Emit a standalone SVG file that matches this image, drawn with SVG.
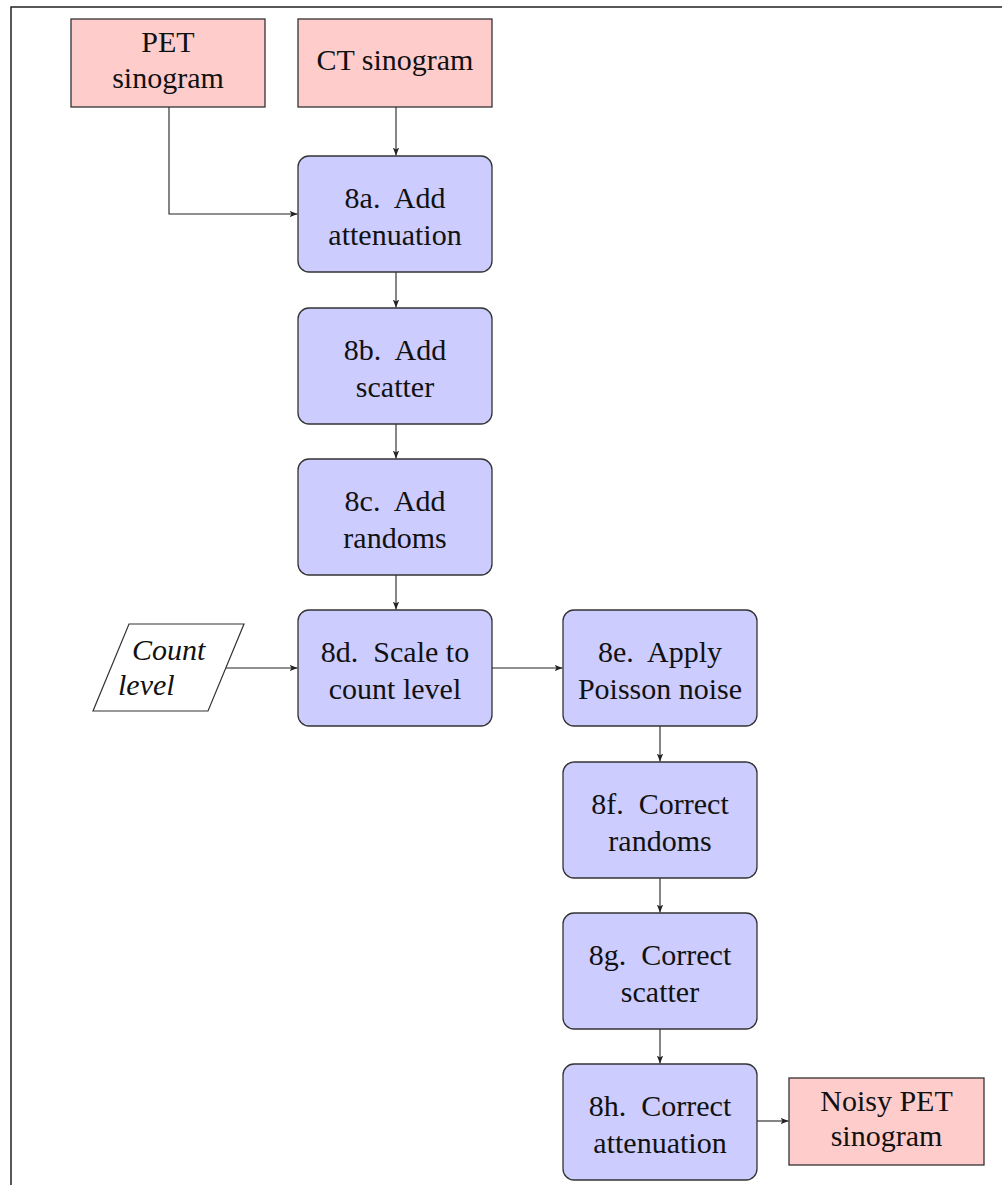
<svg xmlns="http://www.w3.org/2000/svg" width="1002" height="1185" viewBox="0 0 1002 1185">
<style>
.frame{fill:none;stroke:#222;stroke-width:1.5}
.data{fill:#ffcccc;stroke:#333;stroke-width:1.3}
.proc{fill:#ccccff;stroke:#333;stroke-width:1.3}
.para{fill:#fff;stroke:#333;stroke-width:1.2}
.t{font-family:"Liberation Serif","DejaVu Serif",serif;font-size:30px;fill:#111;text-anchor:middle;white-space:pre}
.it{font-family:"Liberation Serif","DejaVu Serif",serif;font-size:30px;font-style:italic;fill:#111}
.c{fill:none;stroke:#222;stroke-width:1.1;marker-end:url(#ah)}
</style>
<defs>
<marker id="ah" viewBox="0 0 10 10" refX="10" refY="5" markerWidth="8" markerHeight="8" markerUnits="userSpaceOnUse" orient="auto">
<path d="M0,1 L10,5 L0,9 L2.5,5 Z" fill="#222"/>
</marker>
</defs>
<rect width="1002" height="1185" fill="#fff"/>
<path class="frame" d="M11,1190 L11,7 L1010,7"/>

<g id="connectors">
<path class="c" d="M396,107 L396,155.5"/>
<path class="c" d="M169,107 L169,214 L297.5,214"/>
<path class="c" d="M396,272 L396,307.5"/>
<path class="c" d="M396,424 L396,458.5"/>
<path class="c" d="M396,575 L396,609.5"/>
<path class="c" d="M226,668 L297.5,668"/>
<path class="c" d="M492,668 L562.5,668"/>
<path class="c" d="M660,726 L660,761.5"/>
<path class="c" d="M660,878 L660,912.5"/>
<path class="c" d="M660,1029 L660,1063.5"/>
<path class="c" d="M757,1121 L788.5,1121"/>
</g>

<g id="pet">
<rect class="data" x="71" y="19" width="194" height="88"/>
<text class="t" x="168" y="52">PET</text>
<text class="t" x="168" y="87.5">sinogram</text>
</g>
<g id="ct">
<rect class="data" x="298" y="19" width="194" height="88"/>
<text class="t" x="395" y="70">CT sinogram</text>
</g>
<g id="n8a">
<rect class="proc" x="298" y="156" width="194" height="116" rx="11"/>
<text class="t" x="395" y="207.5" xml:space="preserve">8a.  Add</text>
<text class="t" x="395" y="245">attenuation</text>
</g>
<g id="n8b">
<rect class="proc" x="298" y="308" width="194" height="116" rx="11"/>
<text class="t" x="395" y="359.5" xml:space="preserve">8b.  Add</text>
<text class="t" x="395" y="397">scatter</text>
</g>
<g id="n8c">
<rect class="proc" x="298" y="459" width="194" height="116" rx="11"/>
<text class="t" x="395" y="510.5" xml:space="preserve">8c.  Add</text>
<text class="t" x="395" y="548">randoms</text>
</g>
<g id="n8d">
<rect class="proc" x="298" y="610" width="194" height="116" rx="11"/>
<text class="t" x="395" y="661.5" xml:space="preserve">8d.  Scale to</text>
<text class="t" x="395" y="699">count level</text>
</g>
<g id="count">
<polygon class="para" points="129,624 244,624 208,711 93,711"/>
<text class="it" x="132" y="660">Count</text>
<text class="it" x="118" y="695">level</text>
</g>
<g id="n8e">
<rect class="proc" x="563" y="610" width="194" height="116" rx="11"/>
<text class="t" x="660" y="661.5" xml:space="preserve">8e.  Apply</text>
<text class="t" x="660" y="699">Poisson noise</text>
</g>
<g id="n8f">
<rect class="proc" x="563" y="762" width="194" height="116" rx="11"/>
<text class="t" x="660" y="813.5" xml:space="preserve">8f.  Correct</text>
<text class="t" x="660" y="851">randoms</text>
</g>
<g id="n8g">
<rect class="proc" x="563" y="913" width="194" height="116" rx="11"/>
<text class="t" x="660" y="964.5" xml:space="preserve">8g.  Correct</text>
<text class="t" x="660" y="1002">scatter</text>
</g>
<g id="n8h">
<rect class="proc" x="563" y="1064" width="194" height="116" rx="11"/>
<text class="t" x="660" y="1115.5" xml:space="preserve">8h.  Correct</text>
<text class="t" x="660" y="1153">attenuation</text>
</g>
<g id="noisy">
<rect class="data" x="789" y="1078" width="195" height="87"/>
<text class="t" x="886.5" y="1110.5">Noisy PET</text>
<text class="t" x="886.5" y="1146">sinogram</text>
</g>
</svg>
